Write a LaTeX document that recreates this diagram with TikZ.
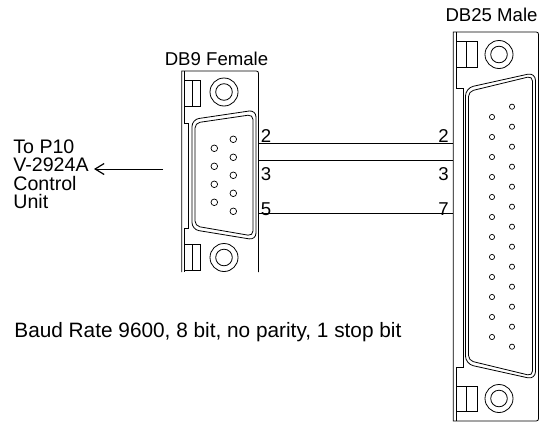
\documentclass[tikz,border=0pt]{standalone}
\usepackage{fontspec}
\setmainfont{Liberation Sans}
\usetikzlibrary{arrows.meta}
\begin{document}
\begin{tikzpicture}[x=1pt,y=-1pt,line width=0.8pt,
  lbl/.style={inner sep=0pt,anchor=base,font=\fontsize{18.6}{18.7}\selectfont},
  lblw/.style={inner sep=0pt,anchor=base west,font=\fontsize{19.6}{19.6}\selectfont},
  pinA/.style={line width=0.7pt},
  wire/.style={line width=0.8pt}]
\useasboundingbox (0,0) rectangle (543,423);
% ---------- DB9 female ----------
\draw (181.7,272) -- (181.7,71) -- (253.5,71) .. controls (258.5,71) .. (258.5,76) -- (258.5,272);
\draw (184,71) -- (184,123) -- (188,123) -- (188,228) -- (184,228) -- (184,272);
\draw (184,80) rectangle (200.7,106); \draw (192.3,80) -- (192.3,106);
\draw (184,244) rectangle (200.7,270); \draw (192.3,244) -- (192.3,270);
\draw (224,92) circle (14); \draw (224,92) circle (8.3);
\draw (224,257.5) circle (14); \draw (224,257.5) circle (8.3);
\draw[rounded corners=7] (192,175) -- (192,119.5) -- (256,110) -- (256,240) -- (192,229.5) -- cycle;
\draw[rounded corners=5] (195,175) -- (195,123) -- (253,114.5) -- (253,236) -- (195,226) -- cycle;
\foreach \k in {0,...,3} \draw[pinA] (214.3,148.3+18*\k) circle (3.3);
\foreach \k in {0,...,4} \draw[pinA] (233.3,139.3+18*\k) circle (3.3);
% ---------- DB25 male ----------
\draw (453.3,421) -- (453.3,32) -- (533.5,32) .. controls (538.5,32) .. (538.5,37) -- (538.5,416) .. controls (538.5,421) .. (533.5,421) -- cycle;
\draw (456,32) -- (456,88) -- (463,88) -- (463,367) -- (456,367) -- (456,421);
\draw (456,41.7) rectangle (477,67.7); \draw (466.5,41.7) -- (466.5,67.7);
\draw (456,386) rectangle (477,411.7); \draw (466.5,386) -- (466.5,411.7);
\draw (499,54.5) circle (14); \draw (499,54.5) circle (8.3);
\draw (499,398.5) circle (14); \draw (499,398.5) circle (8.3);
\draw[rounded corners=8] (465.5,226) -- (465.5,88) -- (535.5,72.5) -- (535.5,379.5) -- (465.5,364) -- cycle;
\draw[rounded corners=5] (468.5,226) -- (468.5,91.5) -- (532.5,76) -- (532.5,376) -- (468.5,360.5) -- cycle;
\foreach \k in {0,...,11} \draw[pinA] (492,117+20*\k) circle (2.6);
\foreach \k in {0,...,12} \draw[pinA] (512,106.7+20*\k) circle (2.6);
% ---------- wires ----------
\coordinate (a2) at (258.5,143.3); \coordinate (b2) at (453.3,143.3);
\coordinate (a3) at (258.5,160.7); \coordinate (b3) at (453.3,160.7);
\coordinate (a5) at (258.5,213.3); \coordinate (b7) at (453.3,213.3);
\draw[wire] (a2) -- (b2);
\draw[wire] (a3) -- (b3);
\draw[wire] (a5) -- (b7);
\node[lbl] (l2) at (266,142) {2};
\node[lbl] (r2) at (443.5,142) {2};
\node[lbl] (l3) at (266,180) {3};
\node[lbl] (r3) at (443.5,180) {3};
\node[lbl] (l5) at (266,215) {5};
\node[lbl] (r7) at (443.5,215) {7};
% ---------- titles ----------
\node[lbl] (t9) at (216.5,65) {DB9 Female};
\node[lbl] (t25) at (491.5,21.6) {DB25 Male};
% ---------- left text ----------
\node[lblw] (c1) at (13,153.3) {To P10};
\node[lblw] (c2) at (13,171.7) {V-2924A};
\node[lblw] (c3) at (13,190) {Control};
\node[lblw] (c4) at (13,208.3) {Unit};
\coordinate (arrS) at (163,169);
\coordinate (arrE) at (94,169);
\draw[-{Straight Barb[length=9pt,width=11pt,line width=1.2pt]}] (arrS) -- (arrE);
% ---------- note ----------
\node[lblw,font=\fontsize{20.8}{21}\selectfont] (baud) at (14,337) {Baud Rate 9600, 8 bit, no parity, 1 stop bit};
\end{tikzpicture}
\end{document}
